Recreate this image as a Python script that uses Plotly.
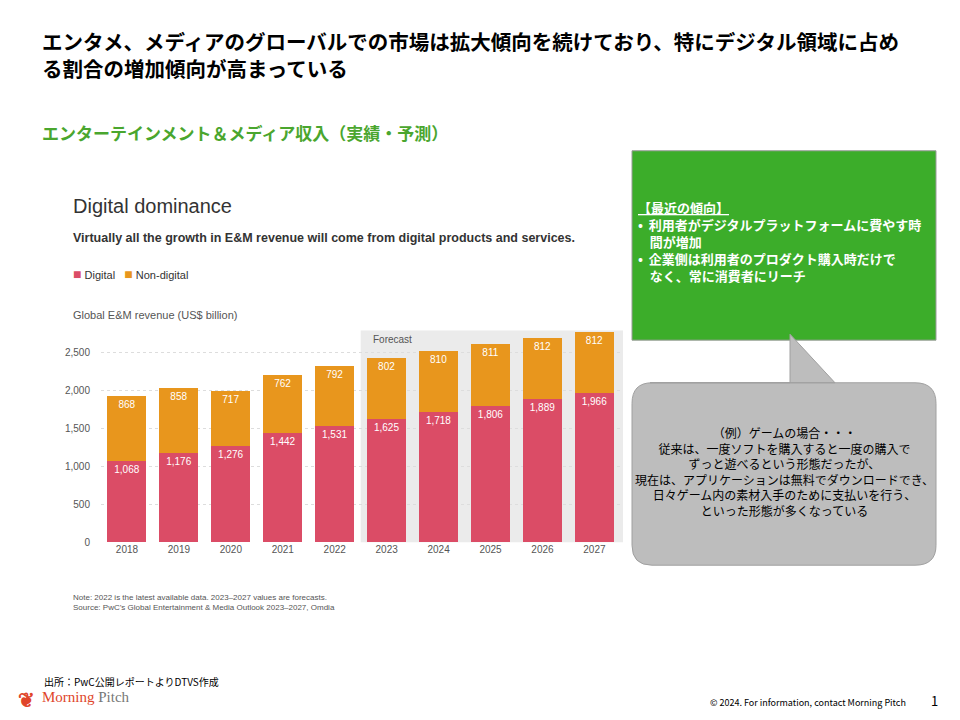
import plotly.graph_objects as go

years = ["2018","2019","2020","2021","2022","2023","2024","2025","2026","2027"]
digital = [1068,1176,1276,1442,1531,1625,1718,1806,1889,1966]
non_digital = [868,858,717,762,792,802,810,811,812,812]
y_ticks = [0,500,1000,1500,2000,2500]

OFF = 8
W, H = 960 - 2 * OFF, 720 - 2 * OFF
def px(x): return (x - OFF) / W
def py(y): return 1 - (y - OFF) / H

fig = go.Figure()
fig.add_bar(x=years, y=digital, marker_color="#db4c66", marker_line_width=0,
            text=[f"{v:,}" for v in digital], textposition="inside", insidetextanchor="end",
            textfont=dict(color="white", size=10, family="Liberation Sans"), name="Digital")
fig.add_bar(x=years, y=non_digital, marker_color="#e8961d", marker_line_width=0,
            text=[f"{v:,}" for v in non_digital], textposition="inside", insidetextanchor="end",
            textfont=dict(color="white", size=10, family="Liberation Sans"), name="Non-digital")

F = "Noto Sans CJK JP"
D = 4
shapes = [
    dict(type="rect", xref="x", yref="y", x0=4.5, x1=9.55, y0=0, y1=2800,
         fillcolor="#ebebeb", line_width=0, layer="below"),
    dict(type="rect", xref="paper", yref="paper", x0=px(632), x1=px(936), y0=py(152), y1=py(343),
         fillcolor="#3cad2a", line=dict(color="#9a9a9a", width=1)),
    dict(type="path", xref="paper", yref="paper",
         path=f"M {px(650)},{py(386)} L {px(915)},{py(386)} Q {px(936)},{py(386)} {px(936)},{py(407)} "
              f"L {px(936)},{py(550)} Q {px(936)},{py(570)} {px(915)},{py(570)} L {px(652)},{py(570)} "
              f"Q {px(632)},{py(570)} {px(632)},{py(550)} L {px(632)},{py(407)} Q {px(632)},{py(386)} {px(652)},{py(386)} "
              f"L {px(790)},{py(386)} L {px(790)},{py(337)} L {px(835)},{py(386)} Z",
         fillcolor="#bdbdbd", line=dict(color="#a0a0a0", width=1)),
]

ann = []
def t(x, y, s, size, color="#000", xa="left", ya="top", fam=F, bold=False, align="left"):
    ann.append(dict(xref="paper", yref="paper", x=px(x), y=py(y), text=(f"<b>{s}</b>" if bold else s),
                    showarrow=False, xanchor=xa, yanchor=ya, align=align,
                    font=dict(size=size, color=color, family=fam)))

t(40, 24, "エンタメ、メディアのグローバルでの市場は拡大傾向を続けており、特にデジタル領域に占め<br>る割合の増加傾向が高まっている", 20.5, bold=True)
t(40, 119, "エンターテインメント＆メディア収入（実績・予測）", 17, color="#4aa62e", bold=True)
t(71, 191 + D, "Digital dominance", 20, color="#333", fam="Liberation Sans")
t(71, 227 + D, "<b>Virtually all the growth in E&M revenue will come from digital products and services.</b>", 12.5, color="#333", fam="Liberation Sans")
t(71, 262 + D, "<span style='color:#db4c66;font-size:14px'>■</span> Digital   <span style='color:#e8961d;font-size:14px'>■</span> Non-digital", 11, color="#333", fam="Liberation Sans")
t(71, 306 + D, "Global E&M revenue (US$ billion)", 11, color="#555", fam="Liberation Sans")
t(371, 331 + D, "Forecast", 10, color="#555", fam="Liberation Sans")
t(71, 592 + D, "Note: 2022 is the latest available data. 2023–2027 values are forecasts.<br>Source: PwC’s Global Entertainment & Media Outlook 2023–2027, Omdia", 8, color="#555", fam="Liberation Sans")
t(636, 198, "<u>【最近の傾向】</u><br>•  利用者がデジタルプラットフォームに費やす時<br>    間が増加<br>•  企業側は利用者のプロダクト購入時だけで<br>    なく、常に消費者にリーチ", 13, color="white", bold=True)
t(784, 426, "（例）ゲームの場合・・・<br>従来は、一度ソフトを購入すると一度の購入で<br>ずっと遊べるという形態だったが、<br>現在は、アプリケーションは無料でダウンロードでき、<br>日々ゲーム内の素材入手のために支払いを行う、<br>といった形態が多くなっている", 12, xa="center", align="center")
t(42, 678, "出所：PwC公開レポートよりDTVS作成", 10)
t(16, 688, "<b>❦</b>", 20, color="#e0452a")
t(40, 693, "<span style='color:#e0452a'>Morning</span> <span style='color:#777'>Pitch</span>", 15, fam="Liberation Serif")
t(908, 700, "© 2024. For information, contact Morning Pitch", 9, xa="right")
t(940, 695, "1", 13, xa="right")

fig.update_layout(
    width=W, height=H, margin=dict(l=0, r=0, t=0, b=0),
    paper_bgcolor="white", plot_bgcolor="white", barmode="stack", bargap=0.25,
    showlegend=False, shapes=shapes, annotations=ann,
    uniformtext=dict(minsize=9, mode="show"),
    xaxis=dict(domain=[px(101), px(623)], tickfont=dict(size=10, color="#555", family="Liberation Sans"),
               showline=False, ticks=""),
    yaxis=dict(domain=[py(543 + D), py(329 + D)], range=[0, 2800], tickvals=y_ticks,
               ticktext=[f"{v:,}" for v in y_ticks], tickfont=dict(size=10, color="#555", family="Liberation Sans"),
               gridcolor="#dddddd", griddash="dot", zeroline=False, ticklabelstandoff=10),
)
fig.write_html("out.html")
